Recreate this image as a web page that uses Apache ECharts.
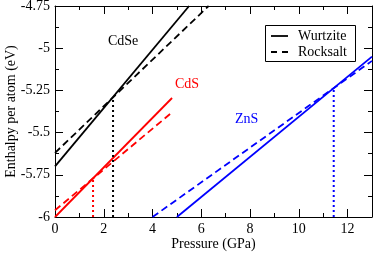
<!DOCTYPE html>
<html><head><meta charset="utf-8">
<script src="https://cdn.jsdelivr.net/npm/echarts@6/dist/echarts.min.js"></script>
<style>html,body{margin:0;padding:0;background:#fff}#c{width:374px;height:253px}</style>
</head><body><div id="c"></div>
<script>
// Data (pressure GPa, enthalpy eV/atom)
const cdseWurtzite = [[0, -5.70], [5.5, -4.75]];
const cdseRocksalt = [[0, -5.62], [6.3, -4.75]];
const cdsWurtzite = [[0, -6.0], [4.8, -5.295]];
const cdsRocksalt = [[0, -5.96], [4.8, -5.38]];
const znsWurtzite = [[5.0, -6.0], [13.0, -5.05]];
const znsRocksalt = [[4.0, -6.0], [13.0, -5.075]];
const cdseTransition = [[2.38, -6.0], [2.38, -5.30]];
const cdsTransition = [[1.56, -6.0], [1.56, -5.77]];
const znsTransition = [[11.43, -6.0], [11.43, -5.24]];
const materials = ['CdSe', 'CdS', 'ZnS'];
const phases = ['Wurtzite', 'Rocksalt'];
const xTicks = [0, 2, 4, 6, 8, 10, 12];
const yTicks = [-6, -5.75, -5.5, -5.25, -5, -4.75];

const FONT = '"Liberation Serif", "Times New Roman", Times, serif';
const FS = 14;
const BLACK = '#000000', RED = '#ff0000', BLUE = '#0000ff';
const LW = 1.8;
const DASH = [7, 4];

function lineSeries(name, data, color, type) {
  return {
    name: name, type: 'line', data: data, xAxisIndex: 0, yAxisIndex: 0,
    symbol: 'none', showSymbol: false, animation: false, silent: true,
    lineStyle: { color: color, width: type === 'dotted' ? 2 : LW, type: type === 'dotted' ? [2, 3] : (type === 'dashed' ? DASH : 'solid') },
    itemStyle: { color: color }
  };
}

function xAx(pos, interval, len, labels) {
  return {
    type: 'value', position: pos, offset: 0, min: 0, max: 13, interval: interval,
    axisLine: { show: labels, onZero: false, lineStyle: { color: BLACK, width: 1 } },
    axisTick: { show: true, inside: true, length: len, lineStyle: { color: BLACK, width: 1 } },
    axisLabel: { show: labels && pos === 'bottom', showMaxLabel: false, margin: 5, color: BLACK, fontFamily: FONT, fontSize: FS },
    splitLine: { show: false },
    name: (labels && pos === 'bottom') ? 'Pressure (GPa)' : '',
    nameLocation: 'middle', nameGap: 20, nameMoveOverlap: false,
    nameTextStyle: { color: BLACK, fontFamily: FONT, fontSize: FS }
  };
}
function yAx(pos, labels) {
  return {
    type: 'value', position: pos, offset: 0, min: -6, max: -4.75, interval: 0.25,
    axisLine: { show: true, onZero: false, lineStyle: { color: BLACK, width: 1 } },
    axisTick: { show: true, inside: true, length: 8, lineStyle: { color: BLACK, width: 1 } },
    minorTick: { show: true, splitNumber: 2, length: 4, lineStyle: { color: BLACK, width: 1 } },
    axisLabel: { show: labels, margin: 5, color: BLACK, fontFamily: FONT, fontSize: FS },
    splitLine: { show: false }, minorSplitLine: { show: false },
    name: labels ? 'Enthalpy per atom (eV)' : '',
    nameLocation: 'middle', nameGap: 37, nameMoveOverlap: false,
    nameTextStyle: { color: BLACK, fontFamily: FONT, fontSize: FS }
  };
}

const chart = echarts.init(document.getElementById('c'), null, { renderer: 'canvas' });
chart.setOption({
  animation: false,
  grid: { left: 55, right: 2, top: 6, bottom: 36, containLabel: false, outerBoundsMode: 'none' },
  xAxis: [xAx('bottom', 2, 8, true), xAx('bottom', 1, 4, false), xAx('top', 2, 8, true), xAx('top', 1, 4, false)],
  yAxis: [yAx('left', true), yAx('right', false)],
  series: [
    lineSeries(phases[0], cdseWurtzite, BLACK, 'solid'),
    lineSeries(phases[1], cdseRocksalt, BLACK, 'dashed'),
    lineSeries('CdS ' + phases[0], cdsWurtzite, RED, 'solid'),
    lineSeries('CdS ' + phases[1], cdsRocksalt, RED, 'dashed'),
    lineSeries('ZnS ' + phases[0], znsWurtzite, BLUE, 'solid'),
    lineSeries('ZnS ' + phases[1], znsRocksalt, BLUE, 'dashed'),
    lineSeries('CdSe transition', cdseTransition, BLACK, 'dotted'),
    lineSeries('CdS transition', cdsTransition, RED, 'dotted'),
    lineSeries('ZnS transition', znsTransition, BLUE, 'dotted')
  ],
  graphic: [
    { type: 'text', x: 108, y: 41, style: { text: materials[0], fill: BLACK, font: FS + 'px ' + FONT, verticalAlign: 'middle' } },
    { type: 'text', x: 175, y: 84, style: { text: materials[1], fill: RED, font: FS + 'px ' + FONT, verticalAlign: 'middle' } },
    { type: 'text', x: 235, y: 119, style: { text: materials[2], fill: BLUE, font: FS + 'px ' + FONT, verticalAlign: 'middle' } },
    // legend
    { type: 'rect', shape: { x: 265.5, y: 25.5, width: 90, height: 36 }, style: { fill: '#fff', stroke: BLACK, lineWidth: 1 }, z: 100 },
    { type: 'line', shape: { x1: 271, y1: 36, x2: 288, y2: 36 }, style: { stroke: BLACK, lineWidth: LW }, z: 101 },
    { type: 'line', shape: { x1: 271, y1: 52, x2: 289, y2: 52 }, style: { stroke: BLACK, lineWidth: LW, lineDash: [6, 5] }, z: 101 },
    { type: 'text', x: 298, y: 36, style: { text: phases[0], fill: BLACK, font: FS + 'px ' + FONT, verticalAlign: 'middle' }, z: 101 },
    { type: 'text', x: 298, y: 52, style: { text: phases[1], fill: BLACK, font: FS + 'px ' + FONT, verticalAlign: 'middle' }, z: 101 }
  ]
});
</script></body></html>
